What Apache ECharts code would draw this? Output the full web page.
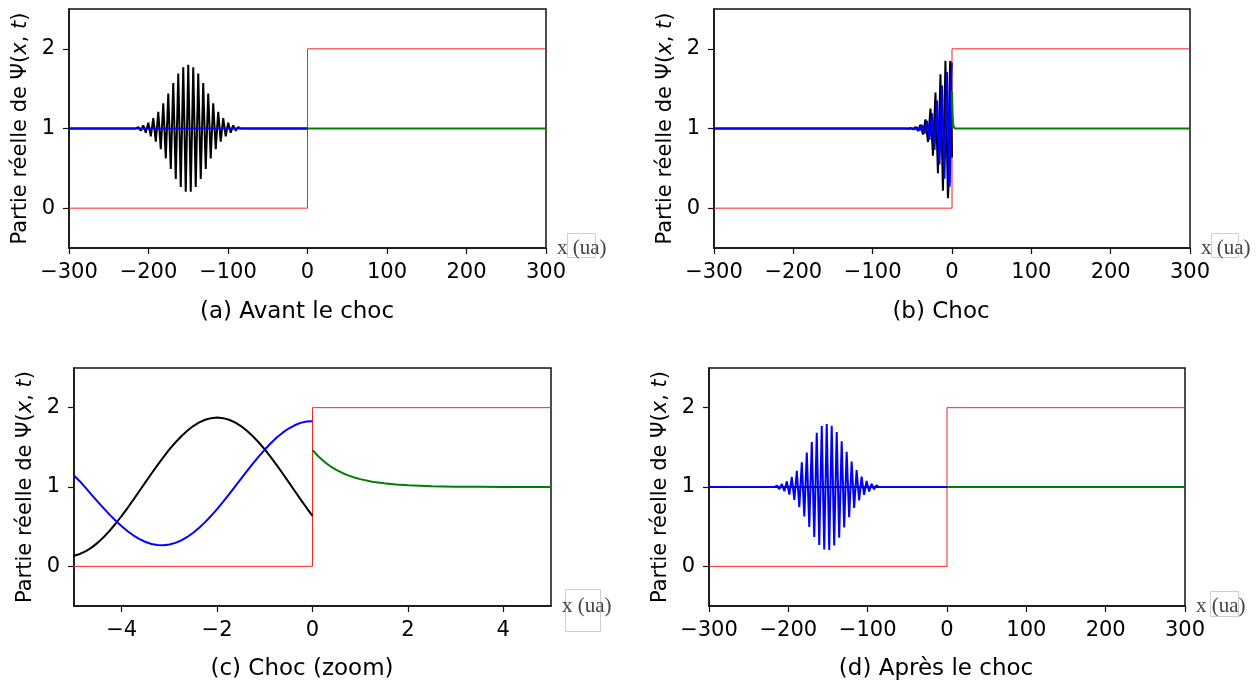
<!DOCTYPE html>
<html><head><meta charset="utf-8">
<script src="https://cdn.jsdelivr.net/npm/echarts@6/dist/echarts.min.js"></script>
<style>html,body{margin:0;padding:0;background:#fff}#c{width:1258px;height:689px}</style>
</head><body><div id="c"></div>
<script>
// ---- data ----
const xTicksWide = [-300, -200, -100, 0, 100, 200, 300];
const xTicksZoom = [-4, -2, 0, 2, 4];
const yTicks = [0, 1, 2];
const captions = ['(a) Avant le choc', '(b) Choc', '(c) Choc (zoom)', '(d) Après le choc'];

// potential step (red)
const stepX = [-300, 0, 0, 300];
const stepY = [0, 0, 2, 2];
// flat level at 1 (left and right regions)
const leftFlatX = [-300, 0];
const leftFlatY = [1, 1];
const rightFlatX = [0, 300];
const rightFlatY = [1, 1];

// (a) incident packet (black)
const incidentA_X = [-300, -216, -212.83, -209.69, -206.55, -203.41, -200.27, -197.12, -193.98, -190.84, -187.70, -184.56, -181.42, -178.27, -175.13, -171.99, -168.85, -165.71, -162.57, -159.42, -156.28, -153.14, -150, -146.86, -143.72, -140.58, -137.43, -134.29, -131.15, -128.01, -124.87, -121.73, -118.58, -115.44, -112.30, -109.16, -106.02, -102.88, -99.73, -96.59, -93.45, -90.31, -87.17, -84, 0];
const incidentA_Y = [1, 1, 1.019, 0.972, 1.039, 0.946, 1.073, 0.902, 1.129, 0.835, 1.209, 0.741, 1.315, 0.624, 1.440, 0.493, 1.572, 0.366, 1.689, 0.265, 1.770, 0.207, 1.800, 0.207, 1.770, 0.265, 1.689, 0.366, 1.572, 0.493, 1.440, 0.624, 1.315, 0.741, 1.209, 0.835, 1.129, 0.902, 1.073, 0.946, 1.039, 0.972, 1.019, 1, 1];

// (b)/(c) shock: incident (black), reflected (blue), transmitted (green)
const chocBlackX = [-300, -58.5, -55.41, -52.27, -49.12, -45.98, -42.84, -39.70, -36.56, -33.42, -30.27, -27.13, -23.99, -20.85, -17.71, -14.57, -11.42, -8.28, -5.14,
  -5, -4.875, -4.75, -4.625, -4.5, -4.375, -4.25, -4.125, -4, -3.875, -3.75, -3.625, -3.5, -3.375, -3.25, -3.125, -3, -2.875, -2.75, -2.625, -2.5, -2.375, -2.25, -2.125,
  -2, -1.875, -1.75, -1.625, -1.5, -1.375, -1.25, -1.125, -1, -0.875, -0.75, -0.625, -0.5, -0.375, -0.25, -0.125, 0];
const chocBlackY = [1, 1, 0.996, 1.006, 0.99, 1.018, 0.97, 1.048, 0.925, 1.115, 0.83, 1.25, 0.66, 1.45, 0.44, 1.68, 0.22, 1.85, 0.125,
  0.134, 0.156, 0.191, 0.239, 0.299, 0.370, 0.450, 0.540, 0.636, 0.738, 0.844, 0.953, 1.062, 1.170, 1.276, 1.377, 1.473, 1.561, 1.640, 1.710, 1.768, 1.814, 1.848, 1.868,
  1.875, 1.868, 1.848, 1.814, 1.768, 1.710, 1.640, 1.561, 1.473, 1.377, 1.276, 1.170, 1.062, 0.953, 0.844, 0.738, 0.636];
const chocBlueX = [-300, -56.6, -53.46, -50.33, -47.18, -44.04, -40.9, -37.76, -34.62, -31.48, -28.33, -25.19, -22.05, -18.91, -15.77, -12.63, -9.48, -6.34,
  -5, -4.875, -4.75, -4.625, -4.5, -4.375, -4.25, -4.125, -4, -3.875, -3.75, -3.625, -3.5, -3.375, -3.25, -3.125, -3, -2.875, -2.75, -2.625, -2.5, -2.375, -2.25, -2.125,
  -2, -1.875, -1.75, -1.625, -1.5, -1.375, -1.25, -1.125, -1, -0.875, -0.75, -0.625, -0.5, -0.375, -0.25, -0.125, 0];
const chocBlueY = [1, 1, 0.997, 1.005, 0.99, 1.016, 0.973, 1.042, 0.935, 1.095, 0.86, 1.19, 0.73, 1.35, 0.55, 1.54, 0.37, 1.71,
  1.145, 1.070, 0.985, 0.898, 0.813, 0.730, 0.649, 0.574, 0.505, 0.442, 0.388, 0.343, 0.307, 0.282, 0.268, 0.266, 0.275, 0.296, 0.327, 0.370, 0.423, 0.486, 0.557, 0.637,
  0.722, 0.813, 0.907, 1.005, 1.102, 1.199, 1.295, 1.386, 1.472, 1.551, 1.623, 1.685, 1.737, 1.778, 1.808, 1.825, 1.829];
const chocGreenX = [0, 0.125, 0.25, 0.375, 0.5, 0.625, 0.75, 0.875, 1, 1.25, 1.5, 1.75, 2, 2.5, 3, 3.5, 4, 5, 300];
const chocGreenY = [1.467, 1.385, 1.317, 1.261, 1.215, 1.177, 1.146, 1.120, 1.099, 1.067, 1.046, 1.031, 1.021, 1.010, 1.004, 1.002, 1.001, 1.0, 1.0];

// (d) reflected packet (blue)
const reflectedD_X = [-300, -217.6, -214.43, -211.29, -208.15, -205.01, -201.87, -198.72, -195.58, -192.44, -189.30, -186.16, -183.02, -179.87, -176.73, -173.59, -170.45, -167.31, -164.17, -161.02, -157.88, -154.74, -151.60, -148.46, -145.32, -142.18, -139.03, -135.89, -132.75, -129.61, -126.47, -123.33, -120.18, -117.04, -113.90, -110.76, -107.62, -104.48, -101.33, -98.19, -95.05, -91.91, -88.77, -85.6, 0];
const reflectedD_Y = [1, 1, 1.018, 0.973, 1.038, 0.947, 1.071, 0.904, 1.126, 0.838, 1.205, 0.745, 1.310, 0.628, 1.435, 0.497, 1.567, 0.370, 1.685, 0.268, 1.768, 0.212, 1.795, 0.205, 1.772, 0.262, 1.693, 0.362, 1.577, 0.489, 1.445, 0.620, 1.320, 0.737, 1.213, 0.832, 1.132, 0.900, 1.075, 0.944, 1.040, 0.971, 1.020, 1, 1];

// ---- build chart ----
const zip = (xs, ys) => xs.map((x, i) => [x, ys[i]]);
const minus = v => String(v).replace('-', '\u2212');

const grids = [
  {left: 69, top: 9, width: 477, height: 239},
  {left: 714, top: 9, width: 476, height: 239},
  {left: 74, top: 368, width: 477, height: 238},
  {left: 709, top: 368, width: 476, height: 238}
].map(g => Object.assign(g, {show: true, borderColor: '#111', borderWidth: 1.5, backgroundColor: 'transparent'}));

const tickFont = {fontFamily: 'DejaVu Sans', fontSize: 21, color: '#000'};

function xAxis(i, zoom) {
  const ax = {
    type: 'value', gridIndex: i,
    min: zoom ? -5 : -300, max: zoom ? 5 : 300,
    splitLine: {show: false},
    axisLine: {show: true, onZero: false, lineStyle: {color: '#111', width: 1.5}},
    axisTick: {show: true, length: 6, lineStyle: {color: '#111', width: 1.2}},
    axisLabel: Object.assign({margin: 14, formatter: minus, showMinLabel: true, showMaxLabel: true}, tickFont),
    name: 'x (ua)', nameLocation: 'end', nameGap: 11,
    nameTextStyle: {fontFamily: 'Liberation Serif', fontSize: 21, color: '#444', align: 'left', verticalAlign: 'middle'}
  };
  if (zoom) {
    ax.axisTick.customValues = xTicksZoom;
    ax.axisLabel.customValues = xTicksZoom;
  } else {
    ax.interval = 100;
    ax.axisTick.customValues = xTicksWide;
    ax.axisLabel.customValues = xTicksWide;
  }
  return ax;
}
function yAxis(i) {
  return {
    type: 'value', gridIndex: i, min: -0.5, max: 2.5,
    splitLine: {show: false},
    axisLine: {show: true, onZero: false, lineStyle: {color: '#111', width: 1.5}},
    axisTick: {show: true, length: 6, customValues: yTicks, lineStyle: {color: '#111', width: 1.2}},
    axisLabel: Object.assign({margin: 14, customValues: yTicks, formatter: minus}, tickFont),
    name: 'Partie réelle de Ψ({i|x}, {i|t})', nameLocation: 'middle', nameGap: 38, nameRotate: 90,
    nameTextStyle: {fontFamily: 'DejaVu Sans', fontSize: 21, color: '#000',
      rich: {i: {fontFamily: 'DejaVu Sans', fontSize: 21, fontStyle: 'italic', color: '#000'}}}
  };
}

function line(i, xs, ys, color, width, z) {
  return {
    type: 'line', xAxisIndex: i, yAxisIndex: i, data: zip(xs, ys),
    showSymbol: false, symbol: 'none', clip: true, z: z, smooth: false,
    lineStyle: {color: color, width: width}, emphasis: {disabled: true}
  };
}

const RED = '#ff2020', BLACK = '#000000', BLUE = '#0000ff', GREEN = '#008000';
const series = [
  // (a)
  line(0, stepX, stepY, RED, 1, 2),
  line(0, incidentA_X, incidentA_Y, BLACK, 2, 3),
  line(0, leftFlatX, leftFlatY, BLUE, 2.2, 4),
  line(0, rightFlatX, rightFlatY, GREEN, 2.2, 5),
  // (b)
  line(1, stepX, stepY, RED, 1, 2),
  line(1, chocBlackX, chocBlackY, BLACK, 2, 3),
  line(1, chocBlueX, chocBlueY, BLUE, 2, 4),
  line(1, chocGreenX, chocGreenY, GREEN, 2.2, 5),
  // (c)
  line(2, stepX, stepY, RED, 1, 2),
  line(2, chocBlackX, chocBlackY, BLACK, 2, 3),
  line(2, chocBlueX, chocBlueY, BLUE, 2, 4),
  line(2, chocGreenX, chocGreenY, GREEN, 2, 5),
  // (d)
  line(3, stepX, stepY, RED, 1, 2),
  line(3, leftFlatX, leftFlatY, BLACK, 2, 3),
  line(3, reflectedD_X, reflectedD_Y, BLUE, 2, 4),
  line(3, rightFlatX, rightFlatY, GREEN, 2.2, 5)
];

const capPos = [[297, 312], [941, 312], [302, 669], [936, 669]];
const boxes = [[567, 233, 28, 24], [1211, 233, 27, 24], [565, 589, 35, 42], [1210, 591, 28, 25]];
const graphic = captions.map((t, i) => ({
  type: 'text', x: capPos[i][0], y: capPos[i][1],
  style: {text: t, fontFamily: 'DejaVu Sans', fontSize: 23, fill: '#000', align: 'center', verticalAlign: 'middle'}
})).concat(boxes.map(b => ({
  type: 'rect', shape: {x: b[0] + 0.5, y: b[1] + 0.5, width: b[2], height: b[3]},
  style: {fill: 'none', stroke: '#cfcfcf', lineWidth: 1}
})));

const chart = echarts.init(document.getElementById('c'), null, {renderer: 'canvas'});
chart.setOption({
  animation: false,
  backgroundColor: '#fff',
  grid: grids,
  xAxis: [xAxis(0, false), xAxis(1, false), xAxis(2, true), xAxis(3, false)],
  yAxis: [yAxis(0), yAxis(1), yAxis(2), yAxis(3)],
  series: series,
  graphic: graphic
});
</script></body></html>
